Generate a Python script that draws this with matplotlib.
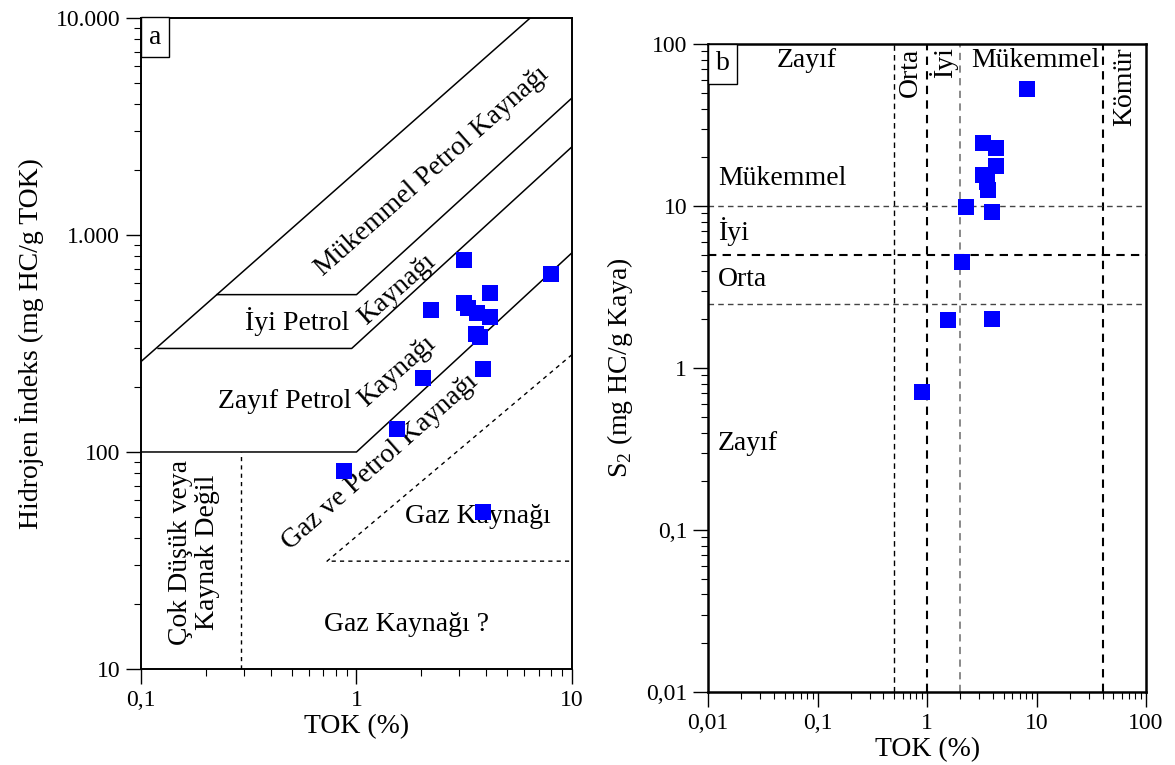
import numpy as np
import matplotlib
matplotlib.use("Agg")
import matplotlib.pyplot as plt

plt.rcParams['font.family'] = ['Liberation Serif', 'DejaVu Serif']
plt.rcParams['mathtext.fontset'] = 'custom'
plt.rcParams['mathtext.rm'] = 'Liberation Serif'

# --- data: panel a (TOK vs HI) ---
tok_a = [3.16, 8.0, 2.22, 4.16, 3.16, 3.3, 3.62, 4.16, 3.59, 3.75, 2.04, 3.86, 1.54, 0.875, 3.86]
hi_a = [763, 664, 449, 542, 488, 460, 439, 421, 348, 340, 220, 240, 128, 81.5, 52.7]

# --- data: panel b (TOK vs S2) ---
tok_b = [8.2, 3.24, 4.26, 4.26, 3.24, 3.5, 3.6, 2.27, 3.93, 2.09, 1.56, 3.93, 0.90]
s2_b = [53, 24.5, 22.8, 17.7, 15.5, 14.0, 12.6, 9.87, 9.2, 4.5, 1.98, 2.0, 0.71]

# boundary lines of panel a
topline_x = [0.1, 6.4]
topline_y = [261, 10000]
exc_x = [0.225, 1.0, 10]
exc_y = [531, 531, 4280]
good_x = [0.12, 0.95, 10]
good_y = [300, 300, 2550]
poor_x = [0.1, 1.0, 10]
poor_y = [100, 100, 828]
low_x = [0.29, 0.29]
low_y = [10, 100]
gas_x = [10, 0.73, 10]
gas_y = [281, 31.4, 31.4]

# thresholds panel b
tok_limits = [0.5, 1, 2, 40]
s2_limits = [10, 5, 2.5]

blue = '#0000FF'

fig = plt.figure(figsize=(11.75, 7.65), dpi=100)
ax1 = fig.add_axes([0.12, 0.1255, 0.3668, 0.851])
ax2 = fig.add_axes([0.6026, 0.0954, 0.3728, 0.847])


def style_axis(ax, lw):
    ax.set_xscale('log')
    ax.set_yscale('log')
    for s in ax.spines.values():
        s.set_linewidth(lw)
    ax.tick_params(which='major', direction='out', length=11, width=1.0,
                   labelsize=17, top=False, right=False, pad=4)
    ax.tick_params(which='minor', direction='out', length=5, width=0.8,
                   top=False, right=False)


def panel_label(ax, s):
    ax.annotate(s, xy=(0, 1), xycoords='axes fraction', xytext=(5.5, -5),
                textcoords='offset points', fontsize=20, ha='left', va='top',
                bbox=dict(boxstyle='square,pad=0.27', fc='white', ec='black', lw=1.0),
                zorder=10)


# ---- panel a ----
style_axis(ax1, 1.4)
ax1.set_xlim(0.1, 10)
ax1.set_ylim(10, 10000)
ax1.set_xticks([0.1, 1, 10], ['0,1', '1', '10'])
ax1.set_yticks([10, 100, 1000, 10000], ['10', '100', '1.000', '10.000'])

ax1.plot(topline_x, topline_y, color='black', lw=1.1)
ax1.plot(exc_x, exc_y, color='black', lw=1.1)
ax1.plot(good_x, good_y, color='black', lw=1.1)
ax1.plot(poor_x, poor_y, color='black', lw=1.1)
ax1.plot(low_x, low_y, color='black', lw=1.0, ls=(0, (3, 3)))
ax1.plot(gas_x, gas_y, color='black', lw=1.0, ls=(0, (3, 3)))

ax1.plot(tok_a, hi_a, 's', color=blue, ms=11, mew=0, zorder=5)

fs = 20
ax1.text(2.24, 1955, 'Mükemmel Petrol Kaynağı', fontsize=fs, rotation=41.5,
         ha='center', va='center', rotation_mode='anchor')
ax1.text(0.53, 399, 'İyi Petrol', fontsize=fs, ha='center', va='center')
ax1.text(1.54, 560, 'Kaynağı', fontsize=fs, rotation=41.5,
         ha='center', va='center', rotation_mode='anchor')
ax1.text(0.466, 171, 'Zayıf Petrol', fontsize=fs, ha='center', va='center')
ax1.text(1.54, 235, 'Kaynağı', fontsize=fs, rotation=41.5,
         ha='center', va='center', rotation_mode='anchor')
ax1.text(1.29, 89.6, 'Gaz ve Petrol Kaynağı', fontsize=fs, rotation=41.5,
         ha='center', va='center', rotation_mode='anchor')
ax1.text(3.66, 50.6, 'Gaz Kaynağı', fontsize=fs, ha='center', va='center')
ax1.text(1.71, 16.1, 'Gaz Kaynağı ?', fontsize=fs, ha='center', va='center')
ax1.text(0.176, 34.5, 'Çok Düşük veya\nKaynak Değil', fontsize=fs, rotation=90,
         ha='center', va='center', linespacing=1.1)

panel_label(ax1, 'a')

ax1.set_xlabel('TOK (%)', fontsize=20, labelpad=2)
ax1.set_ylabel('Hidrojen İndeks (mg HC/g TOK)', fontsize=20, labelpad=8)

# ---- panel b ----
style_axis(ax2, 1.8)
ax2.set_xlim(0.01, 100)
ax2.set_ylim(0.01, 100)
ax2.set_xticks([0.01, 0.1, 1, 10, 100], ['0,01', '0,1', '1', '10', '100'])
ax2.set_yticks([0.01, 0.1, 1, 10, 100], ['0,01', '0,1', '1', '10', '100'])

vstyles = [('black', 1.0), ('black', 1.5), ('gray', 1.3), ('black', 1.5)]
for v, (c, w) in zip(tok_limits, vstyles):
    ax2.axvline(v, color=c, lw=w, ls=(0, (4, 3)), zorder=1)
hstyles = [('#444444', 1.0), ('black', 1.5), ('#444444', 1.0)]
for h, (c, w) in zip(s2_limits, hstyles):
    ax2.axhline(h, color=c, lw=w, ls=(0, (4, 3)), zorder=1)

ax2.plot(tok_b, s2_b, 's', color=blue, ms=11, mew=0, zorder=5)

t = ax2.transAxes
ax2.text(0.226, 0.975, 'Zayıf', transform=t, fontsize=fs, ha='center', va='center')
ax2.text(0.747, 0.975, 'Mükemmel', transform=t, fontsize=fs, ha='center', va='center')
ax2.text(0.461, 0.957, 'Orta', transform=t, fontsize=fs, rotation=90, ha='center', va='center')
ax2.text(0.537, 0.971, 'İyi', transform=t, fontsize=fs, rotation=90, ha='center', va='center')
ax2.text(0.952, 0.934, 'Kömür', transform=t, fontsize=fs, rotation=90, ha='center', va='center')
ax2.text(0.023, 0.793, 'Mükemmel', transform=t, fontsize=fs, ha='left', va='center')
ax2.text(0.023, 0.710, 'İyi', transform=t, fontsize=fs, ha='left', va='center')
ax2.text(0.023, 0.636, 'Orta', transform=t, fontsize=fs, ha='left', va='center')
ax2.text(0.023, 0.384, 'Zayıf', transform=t, fontsize=fs, ha='left', va='center')

panel_label(ax2, 'b')

ax2.set_xlabel('TOK (%)', fontsize=20, labelpad=2)
ax2.set_ylabel(r'S$_\mathregular{2}$ (mg HC/g Kaya)', fontsize=20, labelpad=8)

fig.savefig('out.png', dpi=100)
